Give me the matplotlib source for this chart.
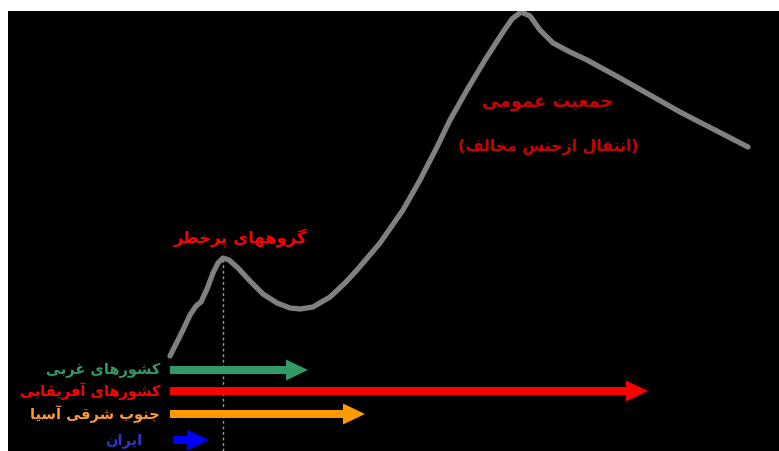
import matplotlib
matplotlib.use("Agg")
import matplotlib.pyplot as plt

# curve (x = time axis, y = prevalence, arbitrary units)
curve_x = [162, 169, 175, 182, 188, 193, 199, 205, 210, 215, 221, 230, 242, 255,
           269, 282, 292, 305, 322, 337, 349, 372, 395, 412, 429, 442, 459, 477,
           495, 504, 513, 522, 532, 545, 562, 579, 612, 642, 672, 707, 740]
curve_y = [95, 109, 121, 136, 145, 149, 162, 178, 188, 193, 191, 183, 170, 157,
           148, 143, 142, 144, 154, 168, 181, 208, 241, 271, 304, 331, 361, 391,
           419, 432, 439, 435, 421, 408, 399, 391, 373, 356, 339, 321, 304]

peak_x = 215
peak_y = 193

groups = ['کشورهای غربی', 'کشورهای آفریقایی', 'جنوب شرقی آسیا', 'ایران']
arrow_start = [162, 162, 162, 165]
arrow_end = [300, 640, 357, 201]
arrow_row = [81, 60, 37, 11]
arrow_colors = ['#339966', '#FF0000', '#FF9900', '#0000FF']
label_colors = ['#339966', '#FF0000', '#FF9933', '#3333CC']

risk_label = 'گروههای پرخطر'
general_label = 'جمعیت عمومی'
general_sub = '(انتقال ازجنس مخالف)'

# minimal persian shaping, matplotlib has no arabic shaper
FORMS = {
    'ا': (0xFE8D, 0xFE8E), 'آ': (0xFE81, 0xFE82), 'د': (0xFEA9, 0xFEAA),
    'ر': (0xFEAD, 0xFEAE), 'ز': (0xFEAF, 0xFEB0), 'و': (0xFEED, 0xFEEE),
    'ب': (0xFE8F, 0xFE90, 0xFE91, 0xFE92), 'پ': (0xFB56, 0xFB57, 0xFB58, 0xFB59),
    'ت': (0xFE95, 0xFE96, 0xFE97, 0xFE98), 'ج': (0xFE9D, 0xFE9E, 0xFE9F, 0xFEA0),
    'خ': (0xFEA5, 0xFEA6, 0xFEA7, 0xFEA8), 'س': (0xFEB1, 0xFEB2, 0xFEB3, 0xFEB4),
    'ش': (0xFEB5, 0xFEB6, 0xFEB7, 0xFEB8), 'ط': (0xFEC1, 0xFEC2, 0xFEC3, 0xFEC4),
    'ع': (0xFEC9, 0xFECA, 0xFECB, 0xFECC), 'غ': (0xFECD, 0xFECE, 0xFECF, 0xFED0),
    'ف': (0xFED1, 0xFED2, 0xFED3, 0xFED4), 'ق': (0xFED5, 0xFED6, 0xFED7, 0xFED8),
    'ک': (0xFB8E, 0xFB8F, 0xFB90, 0xFB91), 'گ': (0xFB92, 0xFB93, 0xFB94, 0xFB95),
    'ل': (0xFEDD, 0xFEDE, 0xFEDF, 0xFEE0), 'م': (0xFEE1, 0xFEE2, 0xFEE3, 0xFEE4),
    'ن': (0xFEE5, 0xFEE6, 0xFEE7, 0xFEE8), 'ه': (0xFEE9, 0xFEEA, 0xFEEB, 0xFEEC),
    'ی': (0xFBFC, 0xFBFD, 0xFBFE, 0xFBFF),
}


def dual(c):
    return c in FORMS and len(FORMS[c]) == 4


def shape(txt):
    out = []
    i = 0
    n = len(txt)
    while i < n:
        c = txt[i]
        join_prev = i > 0 and dual(txt[i - 1])
        if c == 'ل' and i + 1 < n and txt[i + 1] == 'ا':
            out.append(chr(0xFEFC if join_prev else 0xFEFB))
            i += 2
            continue
        if c not in FORMS:
            out.append(c)
            i += 1
            continue
        f = FORMS[c]
        join_next = len(f) == 4 and i + 1 < n and txt[i + 1] in FORMS
        if join_prev and join_next:
            g = f[3]
        elif join_prev:
            g = f[1]
        elif join_next:
            g = f[2]
        else:
            g = f[0]
        out.append(chr(g))
        i += 1
    s = ''.join(out)[::-1]
    return s.translate(str.maketrans('()', ')('))


plt.rcParams['font.family'] = ['DejaVu Sans']

fig = plt.figure(figsize=(7.79, 4.51), dpi=100)
fig.patch.set_facecolor('white')
ax = fig.add_axes([8 / 779, 0, 771 / 779, 440 / 451])
ax.set_facecolor('black')
ax.set_xlim(0, 771)
ax.set_ylim(0, 440)
ax.set_xticks([])
ax.set_yticks([])
for s in ax.spines.values():
    s.set_visible(False)

ax.plot(curve_x, curve_y, color='#808080', lw=3.8, solid_joinstyle='round',
        solid_capstyle='round', zorder=3)
ax.plot([peak_x, peak_x], [0, peak_y], color='#9a9a9a', lw=1, ls=(0, (2, 2)), zorder=2)

for i in range(len(groups)):
    ax.arrow(arrow_start[i], arrow_row[i], arrow_end[i] - arrow_start[i], 0,
             width=8, head_width=21, head_length=22, length_includes_head=True,
             color=arrow_colors[i], lw=0, zorder=4)
    ax.text(152 if i < 3 else 134, arrow_row[i], shape(groups[i]), color=label_colors[i],
            ha='right', va='center', fontsize=10.5, fontweight='bold')

ax.text(232, 213, shape(risk_label), color='#FF0000', ha='center', va='center',
        fontsize=11.8, fontweight='bold')
ax.text(540, 349, shape(general_label), color='#CC0000', ha='center', va='center',
        fontsize=12.8, fontweight='bold')
ax.text(540, 304, shape(general_sub), color='#CC0000', ha='center', va='center',
        fontsize=11.3, fontweight='bold')

fig.savefig('out.png', dpi=100, facecolor='white')
